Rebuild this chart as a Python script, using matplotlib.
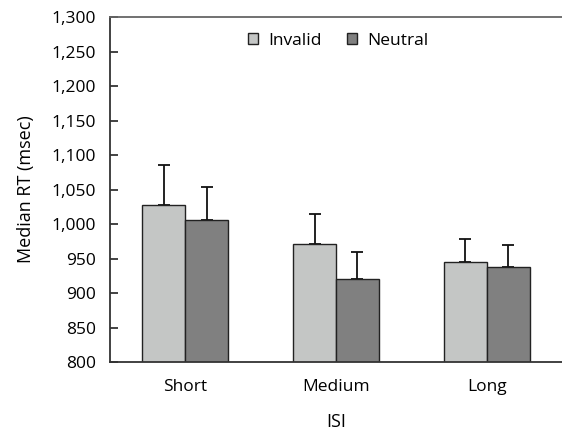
import matplotlib
matplotlib.use("Agg")
import matplotlib.pyplot as plt
import numpy as np
from matplotlib.ticker import FuncFormatter

plt.rcParams['font.family'] = ['Open Sans', 'DejaVu Sans']

categories = ["Short", "Medium", "Long"]
series_names = ["Invalid", "Neutral"]
invalid = [1027, 971, 945]
neutral = [1006, 921, 937]
invalid_err = [58, 44, 34]
neutral_err = [47, 39, 33]
yticks = list(range(800, 1301, 50))

colors = ["#c4c6c5", "#808080"]

fig = plt.figure(figsize=(5.62, 4.32), dpi=100)
ax = fig.add_axes([0.1957, 0.162, 0.8043, 0.7986])

x = np.arange(len(categories))
w = 0.285
for i, (vals, errs, c, name) in enumerate(zip([invalid, neutral], [invalid_err, neutral_err], colors, series_names)):
    pos = x + (i - 0.5) * w
    ax.bar(pos, vals, width=w, color=c, edgecolor="#222222", linewidth=1.0, label=name, zorder=2)
    ax.errorbar(pos, vals, yerr=[np.zeros(len(errs)), errs], fmt='none', ecolor="#111111",
                elinewidth=1.3, capsize=4.3, capthick=1.3, zorder=1)

ax.set_ylim(800, 1300)
ax.set_xlim(-0.5, 2.5)
ax.set_yticks(yticks)
ax.yaxis.set_major_formatter(FuncFormatter(lambda v, p: f"{int(v):,}"))
ax.set_xticks(x)
ax.set_xticklabels(categories)
ax.tick_params(axis='y', direction='in', length=6, width=1.2, labelsize=12.5, pad=10, color="#222222")
ax.tick_params(axis='x', length=0, labelsize=12.5, pad=12.5)
for s in ['left', 'bottom', 'top']:
    ax.spines[s].set_linewidth(1.3)
    ax.spines[s].set_color("#333333")
ax.spines['top'].set_color("#666666")
ax.spines['right'].set_visible(False)

ax.set_ylabel("Median RT (msec)", fontsize=13, labelpad=12)
ax.set_xlabel("ISI", fontsize=13, labelpad=13)

leg = ax.legend(loc='upper center', ncol=2, frameon=False, fontsize=12.5,
                handlelength=0.6, handleheight=0.6, columnspacing=1.4, handletextpad=0.6,
                bbox_to_anchor=(0.505, 1.0))
for h in leg.legend_handles:
    h.set_edgecolor("#222222")
    h.set_linewidth(1.0)

fig.savefig("out.png", dpi=100)
